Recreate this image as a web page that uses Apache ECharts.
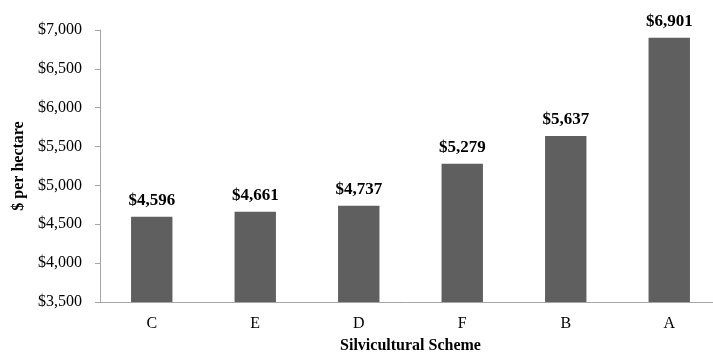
<!DOCTYPE html>
<html>
<head>
<meta charset="utf-8">
<script src="https://cdn.jsdelivr.net/npm/echarts@6/dist/echarts.min.js"></script>
<style>
  html, body { margin: 0; padding: 0; background: #fff; }
  #container { width: 713px; height: 352px; }
</style>
</head>
<body>
<div id="container"></div>
<script>
const schemes = ['C', 'E', 'D', 'F', 'B', 'A'];
const values = [4596, 4661, 4737, 5279, 5637, 6901];

const serif = '"Liberation Serif", "DejaVu Serif", serif';
const money = v => '$' + v.toLocaleString('en-US');

const chart = echarts.init(document.getElementById('container'));

const option = {
  animation: false,
  grid: {
    left: 100,
    right: -8,
    top: 30,
    bottom: 50,
    outerBoundsMode: 'none',
    containLabel: false
  },
  xAxis: {
    type: 'category',
    data: schemes,
    name: 'Silvicultural Scheme',
    nameLocation: 'middle',
    nameGap: 36,
    nameTextStyle: {
      fontFamily: serif,
      fontWeight: 'bold',
      fontSize: 16,
      color: '#000'
    },
    axisLine: { lineStyle: { color: '#a6a6a6' } },
    axisTick: { length: 5, lineStyle: { color: '#a6a6a6' } },
    axisLabel: {
      fontFamily: serif,
      fontSize: 16,
      color: '#000',
      margin: 14
    }
  },
  yAxis: {
    type: 'value',
    min: 3500,
    max: 7000,
    interval: 500,
    name: '$ per hectare',
    nameLocation: 'middle',
    nameGap: 73,
    nameTextStyle: {
      fontFamily: serif,
      fontWeight: 'bold',
      fontSize: 16,
      color: '#000'
    },
    axisLine: { show: true, lineStyle: { color: '#a6a6a6' } },
    axisTick: { show: true, length: 5, lineStyle: { color: '#a6a6a6' } },
    splitLine: { show: false },
    axisLabel: {
      fontFamily: serif,
      fontSize: 16,
      color: '#000',
      margin: 18,
      formatter: money
    }
  },
  series: [{
    type: 'bar',
    data: values,
    barWidth: '40%',
    itemStyle: { color: '#5f5f5f' },
    label: {
      show: true,
      position: 'top',
      distance: 8,
      fontFamily: serif,
      fontWeight: 'bold',
      fontSize: 17,
      color: '#000',
      formatter: p => money(p.value)
    }
  }]
};

chart.setOption(option);
</script>
</body>
</html>
